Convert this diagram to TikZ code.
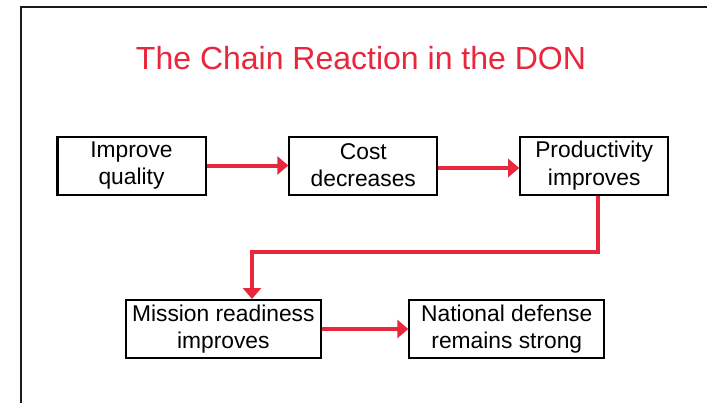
\documentclass[tikz,border=0pt]{standalone}
\usepackage{fontspec}
\setmainfont{Liberation Sans}
\usepackage{xcolor}
\usetikzlibrary{calc,arrows.meta}
\definecolor{bg}{HTML}{FFFFFF}
\definecolor{rule}{HTML}{1A1A1A}
\definecolor{chain}{HTML}{E8263C}
\tikzset{
  frameline/.style={draw=rule, line width=2bp},
  box/.style={draw=black, line width=2bp, align=center, inner sep=0pt,
    minimum height=58bp, font=\fontsize{22.8bp}{27.2bp}\selectfont},
  boxtop/.style={box, minimum width=148bp},
  boxlow/.style={box, minimum width=195bp},
  flow/.style={draw=chain, line width=4bp, -{Triangle[length=11bp,width=18bp]}},
  headline/.style={text=chain, anchor=base, font=\fontsize{32bp}{36bp}\selectfont}
}

\begin{document}
\begin{tikzpicture}[x=1bp,y=-1bp]
  \useasboundingbox (0,0) rectangle (707,402);
  \fill[bg] (0,0) rectangle (707,402);
  \draw[frameline] (21,410) -- (21,7) -- (715,7);

  \node[headline] (head) at (361,69) {The Chain Reaction in the DON};

  \node[boxtop] (improve) at (131.5,165.5) {Improve\\quality};
  \node[boxtop] (cost) at (363.3,165.5) {Cost\\decreases};
  \node[boxtop] (prod) at (594.2,165.5) {Productivity\\improves};
  \node[boxlow] (mission) at (223.3,329) {Mission readiness\\improves};
  \node[boxlow] (defense) at (506.8,329) {National defense\\remains strong};

  \coordinate (turn) at (252,252);

  \draw[flow] (improve) -- (cost);
  \draw[flow] ([yshift=-2.5bp]cost.east) -- ([yshift=-2.5bp]prod.west);
  \draw[flow] ([xshift=3.5bp]prod.south) |- (turn) -- (turn |- mission.north);
  \draw[flow] (mission) -- (defense);
\end{tikzpicture}
\end{document}
